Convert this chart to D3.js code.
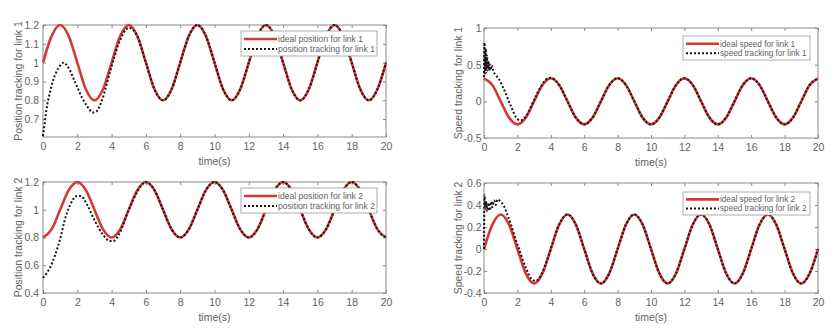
<!DOCTYPE html>
<html>
<head>
<meta charset="utf-8">
<script src="https://cdn.jsdelivr.net/npm/d3@7"></script>
<style>
  body { margin: 0; background: #fff; }
  text { font-family: "Liberation Sans", Arial, Helvetica, sans-serif; fill: #626262; }
</style>
</head>
<body>
<div id="chart-area"></div>
<script>

// Data

var idealT = [0,0.5,1,1.5,2,2.5,3,3.5,4,4.5,5,5.5,6,6.5,7,7.5,8,8.5,9,9.5,10,
              10.5,11,11.5,12,12.5,13,13.5,14,14.5,15,15.5,16,16.5,17,17.5,18,18.5,19,19.5,20];

var pos1Ideal = [1,1.141,1.2,1.141,1,0.859,0.8,0.859, 1,1.141,1.2,1.141,1,0.859,0.8,0.859,
                 1,1.141,1.2,1.141,1,0.859,0.8,0.859, 1,1.141,1.2,1.141,1,0.859,0.8,0.859,
                 1,1.141,1.2,1.141,1,0.859,0.8,0.859, 1];
var speed1Ideal = [0.314,0.222,0,-0.222,-0.314,-0.222,0,0.222, 0.314,0.222,0,-0.222,-0.314,-0.222,0,0.222,
                   0.314,0.222,0,-0.222,-0.314,-0.222,0,0.222, 0.314,0.222,0,-0.222,-0.314,-0.222,0,0.222,
                   0.314,0.222,0,-0.222,-0.314,-0.222,0,0.222, 0.314];
var pos2Ideal = [0.8,0.859,1,1.141,1.2,1.141,1,0.859, 0.8,0.859,1,1.141,1.2,1.141,1,0.859,
                 0.8,0.859,1,1.141,1.2,1.141,1,0.859, 0.8,0.859,1,1.141,1.2,1.141,1,0.859,
                 0.8,0.859,1,1.141,1.2,1.141,1,0.859, 0.8];
var speed2Ideal = [0,0.222,0.314,0.222,0,-0.222,-0.314,-0.222, 0,0.222,0.314,0.222,0,-0.222,-0.314,-0.222,
                   0,0.222,0.314,0.222,0,-0.222,-0.314,-0.222, 0,0.222,0.314,0.222,0,-0.222,-0.314,-0.222,
                   0,0.222,0.314,0.222,0,-0.222,-0.314,-0.222, 0];

// tracking curves as [time, value]
var pos1Track = [[0,0.61],[0.1,0.68],[0.2,0.75],[0.4,0.84],[0.6,0.91],[0.9,0.97],[1.2,1.0],[1.5,0.97],
  [1.9,0.89],[2.3,0.81],[2.6,0.765],[2.9,0.735],[3.1,0.74],[3.4,0.79],[3.7,0.88],[4,0.98],[4.5,1.12],
  [5,1.185],[5.5,1.14],[6,1],[6.5,0.859],[7,0.8],[7.5,0.859],[8,1],[8.5,1.141],[9,1.2],[9.5,1.141],
  [10,1],[10.5,0.859],[11,0.8],[11.5,0.859],[12,1],[12.5,1.141],[13,1.2],[13.5,1.141],[14,1],[14.5,0.859],
  [15,0.8],[15.5,0.859],[16,1],[16.5,1.141],[17,1.2],[17.5,1.141],[18,1],[18.5,0.859],[19,0.8],[19.5,0.859],[20,1]];

var speed1Track = [[0,0.33],[0.03,0.8],[0.07,0.38],[0.1,0.72],[0.14,0.4],[0.18,0.62],[0.22,0.42],[0.27,0.55],
  [0.32,0.42],[0.38,0.5],[0.45,0.44],[0.5,0.48],[0.55,0.42],[0.7,0.36],[0.9,0.3],[1.2,0.16],[1.6,-0.06],
  [2,-0.24],[2.2,-0.26],[2.5,-0.21],[3,0.02],[3.4,0.2],[3.8,0.31],[4,0.32],[4.5,0.222],[5,0],[5.5,-0.222],
  [6,-0.314],[6.5,-0.222],[7,0],[7.5,0.222],[8,0.314],[8.5,0.222],[9,0],[9.5,-0.222],[10,-0.314],[10.5,-0.222],
  [11,0],[11.5,0.222],[12,0.314],[12.5,0.222],[13,0],[13.5,-0.222],[14,-0.314],[14.5,-0.222],[15,0],[15.5,0.222],
  [16,0.314],[16.5,0.222],[17,0],[17.5,-0.222],[18,-0.314],[18.5,-0.222],[19,0],[19.5,0.222],[20,0.314]];

var pos2Track = [[0,0.51],[0.2,0.54],[0.4,0.58],[0.7,0.67],[1,0.79],[1.3,0.94],[1.6,1.04],[2,1.1],[2.2,1.1],
  [2.6,1.03],[3,0.925],[3.5,0.82],[3.9,0.775],[4.1,0.775],[4.5,0.84],[5,1.0],[5.5,1.13],[6,1.2],[6.5,1.141],
  [7,1],[7.5,0.859],[8,0.8],[8.5,0.859],[9,1],[9.5,1.141],[10,1.2],[10.5,1.141],[11,1],[11.5,0.859],[12,0.8],
  [12.5,0.859],[13,1],[13.5,1.141],[14,1.2],[14.5,1.141],[15,1],[15.5,0.859],[16,0.8],[16.5,0.859],[17,1],
  [17.5,1.141],[18,1.2],[18.5,1.141],[19,1],[19.5,0.859],[20,0.8]];

var speed2Track = [[0,0],[0.03,0.49],[0.08,0.36],[0.13,0.43],[0.2,0.34],[0.27,0.42],[0.35,0.35],[0.43,0.43],
  [0.5,0.38],[0.6,0.44],[0.7,0.4],[0.8,0.45],[1,0.43],[1.2,0.39],[1.4,0.31],[1.6,0.23],[1.8,0.13],[2.1,0],
  [2.5,-0.17],[2.9,-0.28],[3.1,-0.29],[3.4,-0.24],[3.8,-0.09],[4,0],[4.5,0.222],[5,0.314],[5.5,0.222],[6,0],
  [6.5,-0.222],[7,-0.314],[7.5,-0.222],[8,0],[8.5,0.222],[9,0.314],[9.5,0.222],[10,0],[10.5,-0.222],[11,-0.314],
  [11.5,-0.222],[12,0],[12.5,0.222],[13,0.314],[13.5,0.222],[14,0],[14.5,-0.222],[15,-0.314],[15.5,-0.222],
  [16,0],[16.5,0.222],[17,0.314],[17.5,0.222],[18,0],[18.5,-0.222],[19,-0.314],[19.5,-0.222],[20,0]];

var xTicks = [0,2,4,6,8,10,12,14,16,18,20];

var panels = [
  {ideal: pos1Ideal, track: pos1Track, yDomain: [0.605, 1.2], yTicks: [0.7,0.8,0.9,1,1.1,1.2],
   ylabel: "Position tracking for link 1",
   legend: ["ideal position for link 1", "position tracking for link 1"],
   box: [43, 25, 386, 137], lab: 18, pad: 4, leg: [241, 31, 136, 25], legFont: 8.6},
  {ideal: speed1Ideal, track: speed1Track, yDomain: [-0.5, 1], yTicks: [-0.5,0,0.5,1],
   ylabel: "Speed tracking for link 1",
   legend: ["ideal speed for link 1", "speed tracking for link 1"],
   box: [484, 28, 818, 138], lab: 458, pad: 2.5, leg: [683, 36, 127, 24], legFont: 8.2},
  {ideal: pos2Ideal, track: pos2Track, yDomain: [0.4, 1.2], yTicks: [0.4,0.6,0.8,1,1.2],
   ylabel: "Position tracking for link 2",
   legend: ["ideal position for link 2", "position tracking for link 2"],
   box: [43, 182, 386, 293], lab: 18, pad: 4, leg: [241, 188, 136, 25], legFont: 8.6},
  {ideal: speed2Ideal, track: speed2Track, yDomain: [-0.4, 0.6], yTicks: [-0.4,-0.2,0,0.2,0.4,0.6],
   ylabel: "Speed tracking for link 2",
   legend: ["ideal speed for link 2", "speed tracking for link 2"],
   box: [484, 183, 818, 293], lab: 458, pad: 2.5, leg: [683, 192, 127, 23], legFont: 8.2}
];

var red = "#d5383b";
var dark = "#1c1414";

var svg = d3.select("#chart-area").append("svg")
    .attr("width", 835)
    .attr("height", 331);

svg.append("rect").attr("width", 835).attr("height", 331).attr("fill", "#fff");

panels.forEach(function(p, i) {
    var w = p.box[2] - p.box[0],
        h = p.box[3] - p.box[1];

    var x = d3.scaleLinear().domain([0, 20]).range([0, w]);
    var y = d3.scaleLinear().domain(p.yDomain).range([h, 0]);

    var g = svg.append("g")
        .attr("transform", `translate(${p.box[0]}, ${p.box[1]})`);

    g.append("clipPath").attr("id", "clip" + i)
      .append("rect").attr("x", -1).attr("y", -2).attr("width", w + 2).attr("height", h + 4);

    // axes
    var fmt = d => String(d);
    g.append("g").attr("transform", `translate(0, ${h})`)
        .call(d3.axisBottom(x).tickValues(xTicks).tickFormat(fmt).tickSize(-3).tickPadding(6));
    g.append("g")
        .call(d3.axisTop(x).tickValues(xTicks).tickFormat("").tickSize(-3));
    g.append("g")
        .call(d3.axisLeft(y).tickValues(p.yTicks).tickFormat(fmt).tickSize(-3).tickPadding(p.pad));
    g.append("g").attr("transform", `translate(${w}, 0)`)
        .call(d3.axisRight(y).tickValues(p.yTicks).tickFormat("").tickSize(-3));

    g.selectAll(".domain").remove();
    g.selectAll(".tick line").attr("stroke", "#888");
    g.selectAll(".tick text")
        .attr("font-size", 10.5)
        .attr("font-family", "Liberation Sans, Arial, sans-serif")
        .attr("fill", "#626262");

    g.append("rect")
        .attr("width", w).attr("height", h)
        .attr("fill", "none").attr("stroke", "#8a8a8a").attr("stroke-width", 1);

    // curves
    var line = d3.line()
        .x(d => x(d[0]))
        .y(d => y(d[1]))
        .curve(d3.curveMonotoneX);

    var idealData = idealT.map((t, k) => [t, p.ideal[k]]);

    var lines = g.append("g").attr("clip-path", `url(#clip${i})`);
    lines.append("path")
        .datum(idealData)
        .attr("d", line)
        .attr("fill", "none")
        .attr("stroke", red)
        .attr("stroke-width", 2.6);
    lines.append("path")
        .datum(p.track)
        .attr("d", line)
        .attr("fill", "none")
        .attr("stroke", dark)
        .attr("stroke-width", 2)
        .attr("stroke-dasharray", "2,2");

    // labels
    svg.append("text")
        .attr("transform", `translate(${p.lab}, ${p.box[1] + h / 2}) rotate(-90)`)
        .attr("text-anchor", "middle")
        .attr("dy", "0.35em")
        .attr("font-size", 10.5)
        .text(p.ylabel);

    g.append("text")
        .attr("x", w / 2).attr("y", h + 28)
        .attr("text-anchor", "middle")
        .attr("font-size", 10.5)
        .text("time(s)");

    // legend
    var lg = svg.append("g").attr("transform", `translate(${p.leg[0]}, ${p.leg[1]})`);
    lg.append("rect")
        .attr("width", p.leg[2]).attr("height", p.leg[3])
        .attr("fill", "#fff").attr("stroke", "#999").attr("stroke-width", 0.8);
    var rows = [{stroke: red, sw: 2.6, dash: null}, {stroke: dark, sw: 2, dash: "2,2"}];
    rows.forEach(function(r, k) {
        var yy = p.leg[3] * (k === 0 ? 0.32 : 0.72);
        lg.append("line")
            .attr("x1", 3).attr("x2", 36).attr("y1", yy).attr("y2", yy)
            .attr("stroke", r.stroke).attr("stroke-width", r.sw)
            .attr("stroke-dasharray", r.dash);
        lg.append("text")
            .attr("x", 37).attr("y", yy).attr("dy", "0.35em")
            .attr("font-size", p.legFont)
            .text(p.legend[k]);
    });
});

</script>
</body>
</html>
